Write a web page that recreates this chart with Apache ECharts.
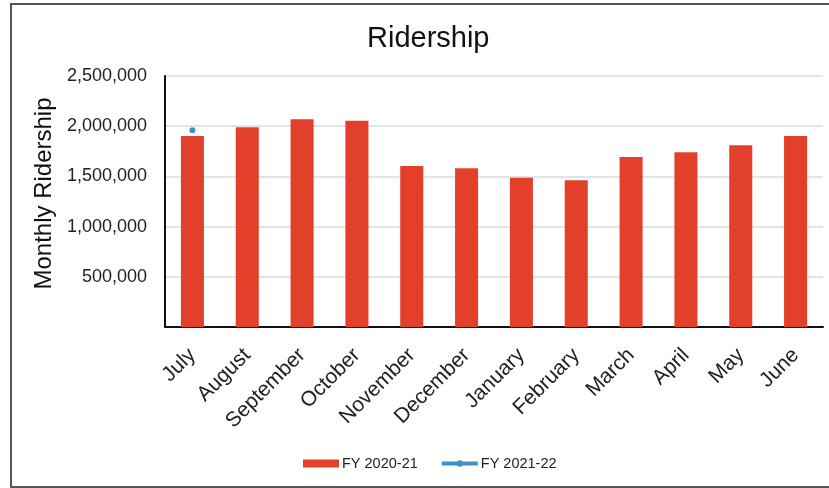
<!DOCTYPE html>
<html>
<head>
<meta charset="utf-8">
<script src="https://cdn.jsdelivr.net/npm/echarts@6/dist/echarts.min.js"></script>
<style>
html,body{margin:0;padding:0;background:#fff;}
#chart{width:829px;height:488px;}
</style>
</head>
<body>
<div id="chart"></div>
<script>
var months = ['July','August','September','October','November','December','January','February','March','April','May','June'];
var fy2021 = [1902000, 1990000, 2070000, 2055000, 1604000, 1582000, 1487000, 1461000, 1693000, 1740000, 1810000, 1902000];
var fy2122 = [1960000, null, null, null, null, null, null, null, null, null, null, null];
var yTicks = [0, 500000, 1000000, 1500000, 2000000, 2500000];

var chart = echarts.init(document.getElementById('chart'), null, {renderer:'canvas'});
var font = '"Liberation Sans", Arial, sans-serif';
chart.setOption({
  animation:false,
  backgroundColor:'#fff',
  textStyle:{fontFamily:font},
  title:{text:'Ridership', left:362, top:19, textStyle:{fontFamily:font, fontSize:29, fontWeight:'normal', color:'#111'}},
  graphic:[{type:'polyline', silent:true, shape:{points:[[840,4],[11,4],[11,487],[840,487]]}, style:{stroke:'#555', lineWidth:2, fill:null}}],
  legend:{
    top:451, left:298, itemGap:22,
    textStyle:{fontFamily:font, fontSize:14.5, color:'#222', padding:[0,0,0,-2]},
    data:[
      {name:'FY 2020-21', icon:'rect'},
      {name:'FY 2021-22', lineStyle:{width:4}}
    ],
    itemWidth:36, itemHeight:8
  },
  grid:{left:165, right:6, top:76, bottom:161, containLabel:false},
  xAxis:{
    type:'category', data:months,
    axisLine:{lineStyle:{color:'#111', width:2}},
    axisTick:{show:false},
    axisLabel:{rotate:45, fontSize:21, color:'#222', margin:25, fontFamily:font, interval:0}
  },
  yAxis:{
    type:'value', min:yTicks[0], max:yTicks[yTicks.length-1], interval:500000,
    name:'Monthly Ridership', nameLocation:'middle', nameGap:99, nameRotate:90,
    nameTextStyle:{fontSize:24, color:'#111', fontFamily:font, padding:[0,0,0,16]},
    axisLine:{show:true, lineStyle:{color:'#111', width:2}},
    axisTick:{show:false},
    splitLine:{lineStyle:{color:'#d6dce4', width:1.5}},
    axisLabel:{fontSize:18, color:'#222', margin:18, fontFamily:font,
      formatter:function(v){return v===0?'':v.toLocaleString('en-US');}}
  },
  series:[
    {name:'FY 2020-21', type:'bar', data:fy2021, barWidth:'42%', itemStyle:{color:'#e3402b'}},
    {name:'FY 2021-22', type:'line', data:fy2122, symbol:'circle', symbolSize:6, showSymbol:true,
      itemStyle:{color:'#3d94c0'}, lineStyle:{color:'#3d94c0', width:4}}
  ]
});
</script>
</body>
</html>
